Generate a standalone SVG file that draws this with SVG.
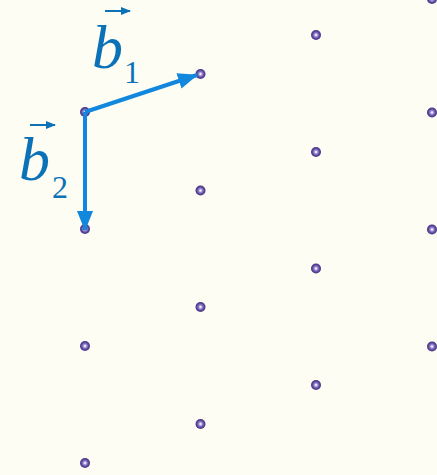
<svg xmlns="http://www.w3.org/2000/svg" width="437" height="475" viewBox="0 0 437 475">
<style>
.lbl{font-family:"Liberation Serif","Times New Roman",serif;fill:#0b72b8}
.b{font-style:italic;font-size:62px}
.sub{font-size:32px}
.vec{stroke:#1188dd;stroke-width:4;fill:none}
.oa{stroke:#0b72b8;stroke-width:2;fill:none}
.pt{fill:url(#g)}
</style>
<defs>
<radialGradient id="g" cx="0.5" cy="0.5" r="0.5">
<stop offset="0" stop-color="#ffffff"/>
<stop offset="0.15" stop-color="#e4dcfa"/>
<stop offset="0.4" stop-color="#9282c8"/>
<stop offset="0.7" stop-color="#5c489e"/>
<stop offset="1" stop-color="#45347e"/>
</radialGradient>
<marker id="ah" viewBox="0 0 20 16" refX="19" refY="8" markerWidth="20" markerHeight="16" markerUnits="userSpaceOnUse" orient="auto">
<path d="M0,0 L20,8 L0,16 Z" fill="#1188dd"/>
</marker>
<marker id="sa" viewBox="0 0 10 8" refX="9" refY="4" markerWidth="10" markerHeight="8" markerUnits="userSpaceOnUse" orient="auto">
<path d="M0,0 L10,4 L0,8 Z" fill="#0b72b8"/>
</marker>
</defs>
<rect width="437" height="475" fill="#fdfdf3"/>
<g id="points">
<g id="p00"><circle class="pt" cx="85" cy="112" r="5"/></g>
<g id="p01"><circle class="pt" cx="85" cy="229" r="5"/></g>
<g id="p02"><circle class="pt" cx="85" cy="346" r="5"/></g>
<g id="p03"><circle class="pt" cx="85" cy="463" r="5"/></g>
<g id="p10"><circle class="pt" cx="200.5" cy="74" r="5"/></g>
<g id="p11"><circle class="pt" cx="200.5" cy="190.5" r="5"/></g>
<g id="p12"><circle class="pt" cx="200.5" cy="307" r="5"/></g>
<g id="p13"><circle class="pt" cx="200.5" cy="424" r="5"/></g>
<g id="p20"><circle class="pt" cx="316" cy="35" r="5"/></g>
<g id="p21"><circle class="pt" cx="316" cy="152" r="5"/></g>
<g id="p22"><circle class="pt" cx="316" cy="268.5" r="5"/></g>
<g id="p23"><circle class="pt" cx="316" cy="385" r="5"/></g>
<g id="p30"><circle class="pt" cx="432" cy="-1" r="5"/></g>
<g id="p31"><circle class="pt" cx="432" cy="112.5" r="5"/></g>
<g id="p32"><circle class="pt" cx="432" cy="229.5" r="5"/></g>
<g id="p33"><circle class="pt" cx="432" cy="346.5" r="5"/></g>
</g>
<g id="connectors">
<line class="vec" x1="85" y1="112" x2="197" y2="75" marker-end="url(#ah)"/>
<line class="vec" x1="85" y1="112" x2="85" y2="230" marker-end="url(#ah)"/>
</g>
<g id="label-b1">
<text class="lbl b" x="92" y="68">b</text>
<text class="lbl sub" x="124" y="83">1</text>
<line class="oa" x1="105" y1="11" x2="130" y2="11" marker-end="url(#sa)"/>
</g>
<g id="label-b2">
<text class="lbl b" x="19" y="180">b</text>
<text class="lbl sub" x="52" y="198">2</text>
<line class="oa" x1="30" y1="125" x2="55" y2="125" marker-end="url(#sa)"/>
</g>
</svg>
